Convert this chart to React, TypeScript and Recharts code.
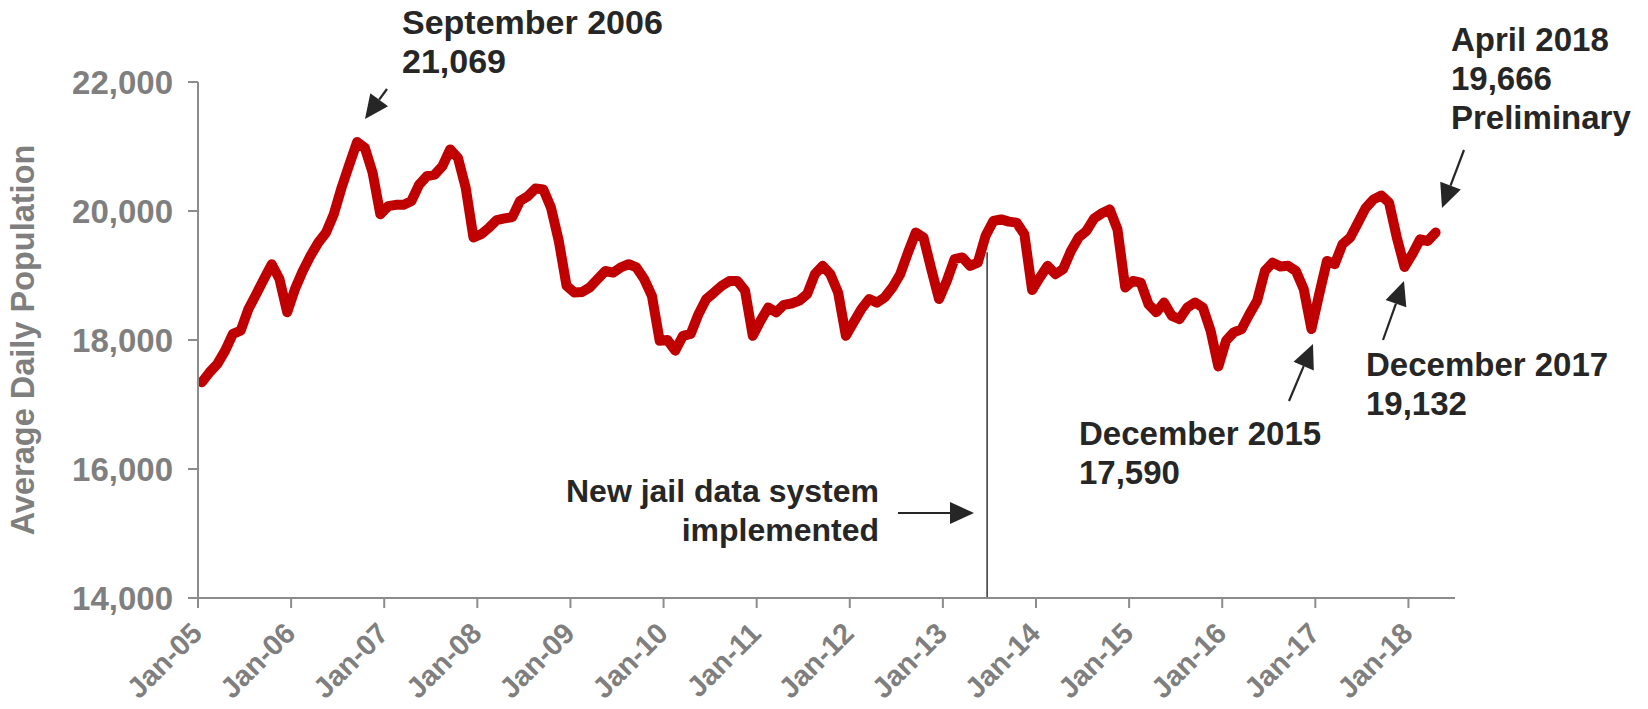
import { LineChart, Line, XAxis, YAxis, ReferenceLine } from "recharts";

// monthly average daily population, Jan 2005 .. Apr 2018
const population = [
    17345, 17500, 17630, 17835, 18095, 18145, 18480, 18710, 18945, 19175, 18945, 18430,
    18790, 19070, 19305, 19510, 19665, 19950, 20360, 20720, 21069, 20980, 20595, 19950,
    20075, 20095, 20095, 20155, 20410, 20540, 20565, 20695, 20955, 20825, 20360, 19590,
    19640, 19740, 19860, 19885, 19905, 20155, 20230, 20350, 20335, 20050, 19535, 18840,
    18735, 18745, 18815, 18945, 19070, 19045, 19125, 19175, 19125, 18945, 18685, 17990,
    18000, 17835, 18065, 18095, 18400, 18635, 18735, 18840, 18915, 18915, 18765, 18065,
    18300, 18505, 18430, 18545, 18565, 18610, 18710, 19020, 19150, 19020, 18735, 18065,
    18275, 18480, 18635, 18580, 18660, 18815, 19020, 19355, 19665, 19590, 19100, 18635,
    18915, 19255, 19280, 19150, 19200, 19615, 19845, 19870, 19835, 19820, 19640, 18775,
    18970, 19150, 19020, 19100, 19380, 19590, 19690, 19885, 19965, 20025, 19715, 18815,
    18915, 18890, 18555, 18430, 18580, 18375, 18325, 18505, 18580, 18505, 18145, 17590,
    17990, 18120, 18170, 18400, 18610, 19070, 19200, 19140, 19150, 19070, 18790, 18170,
    18710, 19225, 19175, 19485, 19590, 19820, 20050, 20180, 20240, 20130, 19590, 19132,
    19330, 19560, 19535, 19666,
];

const tickLabels = [
    "Jan-05", "Jan-06", "Jan-07", "Jan-08", "Jan-09", "Jan-10", "Jan-11",
    "Jan-12", "Jan-13", "Jan-14", "Jan-15", "Jan-16", "Jan-17", "Jan-18",
];
const yTicks = [14000, 16000, 18000, 20000, 22000];

// month slot where the new jail data system went live (mid 2013)
const newSystemMonth = 101.7;
const newSystemTop = 19360;

const FONT = "'Liberation Sans', Arial, Helvetica, sans-serif";
const GRAY = "#7f7f7f";
const DARK = "#262626";

const data = population.map((v, i) => ({ x: i + 0.5, value: v }));
const xTicks = tickLabels.map((_, i) => i * 12);

const XTick = ({ x, y, payload }: any) => {
    const label = tickLabels[Math.round(payload.value / 12)];
    const px = x + 6;
    const py = y + 25;
    return (
        <text x={px} y={py} transform={`rotate(-45, ${px}, ${py})`} textAnchor="end"
            fill={GRAY} fontSize={29} fontWeight="bold" fontFamily={FONT}>
            {label}
        </text>
    );
};

function Arrow({ x1, y1, x2, y2 }: { x1: number; y1: number; x2: number; y2: number }) {
    const len = Math.hypot(x2 - x1, y2 - y1);
    const ux = (x2 - x1) / len;
    const uy = (y2 - y1) / len;
    const bx = x2 - ux * 24;
    const by = y2 - uy * 24;
    const nx = -uy * 11;
    const ny = ux * 11;
    return (
        <g>
            <line x1={x1} y1={y1} x2={bx} y2={by} stroke={DARK} strokeWidth={2.2} />
            <polygon points={`${x2},${y2} ${bx + nx},${by + ny} ${bx - nx},${by - ny}`} fill={DARK} />
        </g>
    );
}

function Note({ x, y, lines, anchor = "start", size = 33 }: { x: number; y: number; lines: string[]; anchor?: string; size?: number }) {
    return (
        <text x={x} y={y} fill={DARK} fontSize={size} fontWeight="bold" fontFamily={FONT} textAnchor={anchor as any}>
            {lines.map((l, i) => (
                <tspan key={i} x={x} dy={i === 0 ? 0 : 39}>{l}</tspan>
            ))}
        </text>
    );
}

export default function App() {
    return (
        <div style={{ position: "absolute", left: 0, top: 0, width: 1648, height: 709, background: "#fff" }}>
            <LineChart width={1648} height={709} data={data}
                margin={{ top: 82, right: 193, bottom: 0, left: 0 }}>
                <XAxis
                    type="number"
                    dataKey="x"
                    domain={[0, 162]}
                    ticks={xTicks}
                    interval={0}
                    height={111}
                    tickSize={10}
                    tick={<XTick />}
                    axisLine={{ stroke: "#8c8c8c", strokeWidth: 2 }}
                    tickLine={{ stroke: "#8c8c8c", strokeWidth: 2 }}
                />
                <YAxis
                    type="number"
                    domain={[14000, 22000]}
                    ticks={yTicks}
                    width={198}
                    tickSize={10}
                    tickMargin={15}
                    tickFormatter={(v: number) => v.toLocaleString("en-US")}
                    tick={{ fill: GRAY, fontSize: 33, fontWeight: "bold", fontFamily: FONT }}
                    axisLine={{ stroke: "#8c8c8c", strokeWidth: 2 }}
                    tickLine={{ stroke: "#8c8c8c", strokeWidth: 2 }}
                />
                <ReferenceLine
                    segment={[{ x: newSystemMonth, y: newSystemTop }, { x: newSystemMonth, y: 14000 }]}
                    stroke="#333"
                    strokeWidth={1.5}
                />
                <Line
                    type="linear"
                    dataKey="value"
                    stroke="#c00000"
                    strokeWidth={10}
                    strokeLinejoin="round"
                    strokeLinecap="round"
                    dot={false}
                    isAnimationActive={false}
                />
            </LineChart>

            {/* annotations */}
            <svg width={1648} height={709} style={{ position: "absolute", left: 0, top: 0, pointerEvents: "none" }}>
                <text x={23} y={340} transform="rotate(-90, 23, 340)" textAnchor="middle" dominantBaseline="central"
                    fill={GRAY} fontSize={32.5} fontWeight="bold" fontFamily={FONT}>
                    Average Daily Population
                </text>

                <Note x={402} y={34} lines={["September 2006", "21,069"]} size={34} />
                <Arrow x1={387} y1={89} x2={365} y2={119} />

                <Note x={1451} y={51} lines={["April 2018", "19,666", "Preliminary"]} />
                <Arrow x1={1464} y1={150} x2={1442} y2={208} />

                <Note x={1366} y={376} lines={["December 2017", "19,132"]} />
                <Arrow x1={1383} y1={340} x2={1404} y2={281} />

                <Note x={1079} y={445} lines={["December 2015", "17,590"]} />
                <Arrow x1={1289} y1={401} x2={1313} y2={344} />

                <Note x={879} y={502} lines={["New jail data system", "implemented"]} anchor="end" size={32} />
                <Arrow x1={898} y1={513} x2={974} y2={513} />
            </svg>
        </div>
    );
}
